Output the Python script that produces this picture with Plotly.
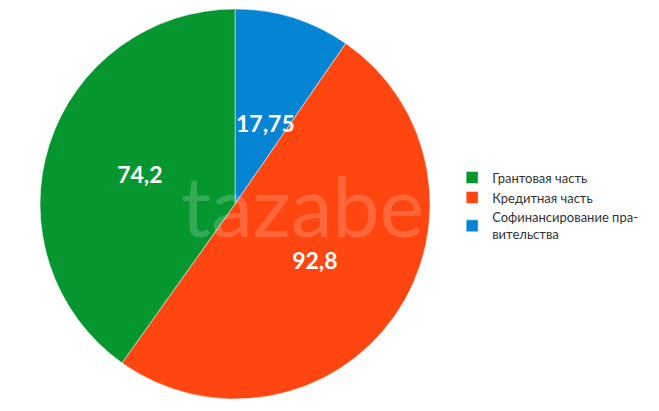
import plotly.graph_objects as go

# ----- Data -----
labels = ["Софинансирование пра-<br>вительства", "Кредитная часть", "Грантовая часть"]
values = [17.75, 92.8, 74.2]
value_text = ["17,75", "92,8", "74,2"]
colors = ["#0584D4", "#FF4611", "#05962F"]

# the small blue slice gets its label as an annotation (plotly pushes it to the rim)
slice_text = [""] + value_text[1:]

fig = go.Figure(
    go.Pie(
        labels=labels,
        values=values,
        text=slice_text,
        texttemplate="%{text}",
        textinfo="text",
        textposition="inside",
        insidetextorientation="horizontal",
        insidetextfont=dict(color="white", size=23, family="Lato", weight="bold"),
        marker=dict(colors=colors, line=dict(color="white", width=0.5)),
        sort=False,
        direction="clockwise",
        rotation=0,
        domain=dict(x=[0.0486, 0.6404], y=[0.0487, 0.9976]),
        hoverinfo="label+value",
    )
)

fig.add_annotation(
    text=value_text[0], x=257 / 659, y=1 - 99 / 411, xref="paper", yref="paper",
    showarrow=False, font=dict(size=23, color="white", family="Lato", weight="bold"),
)

# faint watermark across the pie
fig.add_annotation(
    text="tazabek", x=171 / 659, y=1 - 196 / 411, xref="paper", yref="paper",
    xanchor="left", yanchor="middle",
    showarrow=False, font=dict(size=84, color="rgba(255,255,255,0.18)", family="Lato"),
)

fig.update_layout(
    width=659,
    height=411,
    margin=dict(t=0, r=0, b=0, l=0),
    paper_bgcolor="white",
    plot_bgcolor="white",
    font=dict(family="Lato", size=13, color="#333333"),
    legend=dict(
        x=0.674, y=0.518, xanchor="left", yanchor="middle",
        font=dict(size=13, color="#333333"),
        itemwidth=30,
        tracegroupgap=0,
        traceorder="reversed",
    ),
)

fig.write_html("out.html")
